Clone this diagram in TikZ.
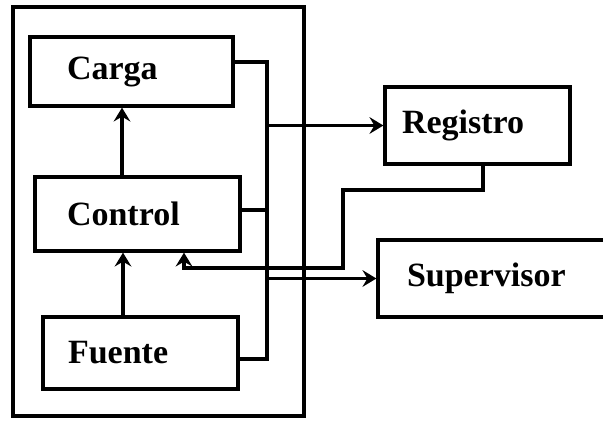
\documentclass[tikz,border=0pt]{standalone}
\usepackage{fontspec}
\setmainfont{Liberation Serif}
\usetikzlibrary{arrows.meta}
\begin{document}
\begin{tikzpicture}[x=1pt,y=-1pt,
  line width=3.3pt,
  blk/.style={draw, rectangle, align=left, font=\bfseries\fontsize{34}{40}\selectfont, inner ysep=0pt},
  arr/.style={-{Stealth[length=14pt 0 0, width=17pt 0 0, inset=5pt 0, line width=0pt]}},
  wire/.style={line join=miter}]
\clip (0,0) rectangle (603,421);
\fill[white] (0,0) rectangle (603,421);
% outer frame
\node[draw, rectangle, minimum width=291pt, minimum height=409pt, inner sep=0pt] (frame) at (158.5,211.5) {};
% blocks
\node[blk, minimum height=69pt, inner xsep=37pt, text width=129pt] (car) at (131.5,71.5) {Carga};
\node[blk, minimum height=74pt, inner xsep=32pt, text width=141pt] (ctl) at (137.5,214) {Control};
\node[blk, minimum height=72pt, inner xsep=25pt, text width=145pt] (fue) at (140.5,353) {Fuente};
\node[blk, minimum height=77pt, inner xsep=17pt, text width=151pt] (reg) at (477.5,125.5) {Registro};
\node[blk, minimum height=77pt, inner xsep=29pt, text width=204pt] (sup) at (509,278.5) {Supervisor};
% helper coordinates
\coordinate (ax1) at (122,0);
\coordinate (ax2) at (123,0);
\coordinate (bt) at (267,62);
\coordinate (bm) at (267,210);
\coordinate (bb) at (267,359);
\coordinate (r1) at (483,190);
\coordinate (r2) at (343,190);
\coordinate (r3) at (343,268);
\coordinate (r4) at (184,268);
% internal arrows
\draw[arr] (ctl.north -| ax1) -- (car.south -| ax1);
\draw[arr] (fue.north -| ax2) -- (ctl.south -| ax2);
% bus
\draw[wire] (car.east |- bt) -- (bt) -- (bb) -- (fue.east |- bb);
\draw (ctl.east |- bm) -- (bm);
\draw[arr] (reg.west -| bt) -- (reg.west);
\draw[arr] (sup.west -| bt) -- (sup.west);
% feedback from Registro
\draw[arr, wire] (reg.south -| r1) -- (r1) -- (r2) -- (r3) -- (r4) -- (ctl.south -| r4);
\end{tikzpicture}
\end{document}
